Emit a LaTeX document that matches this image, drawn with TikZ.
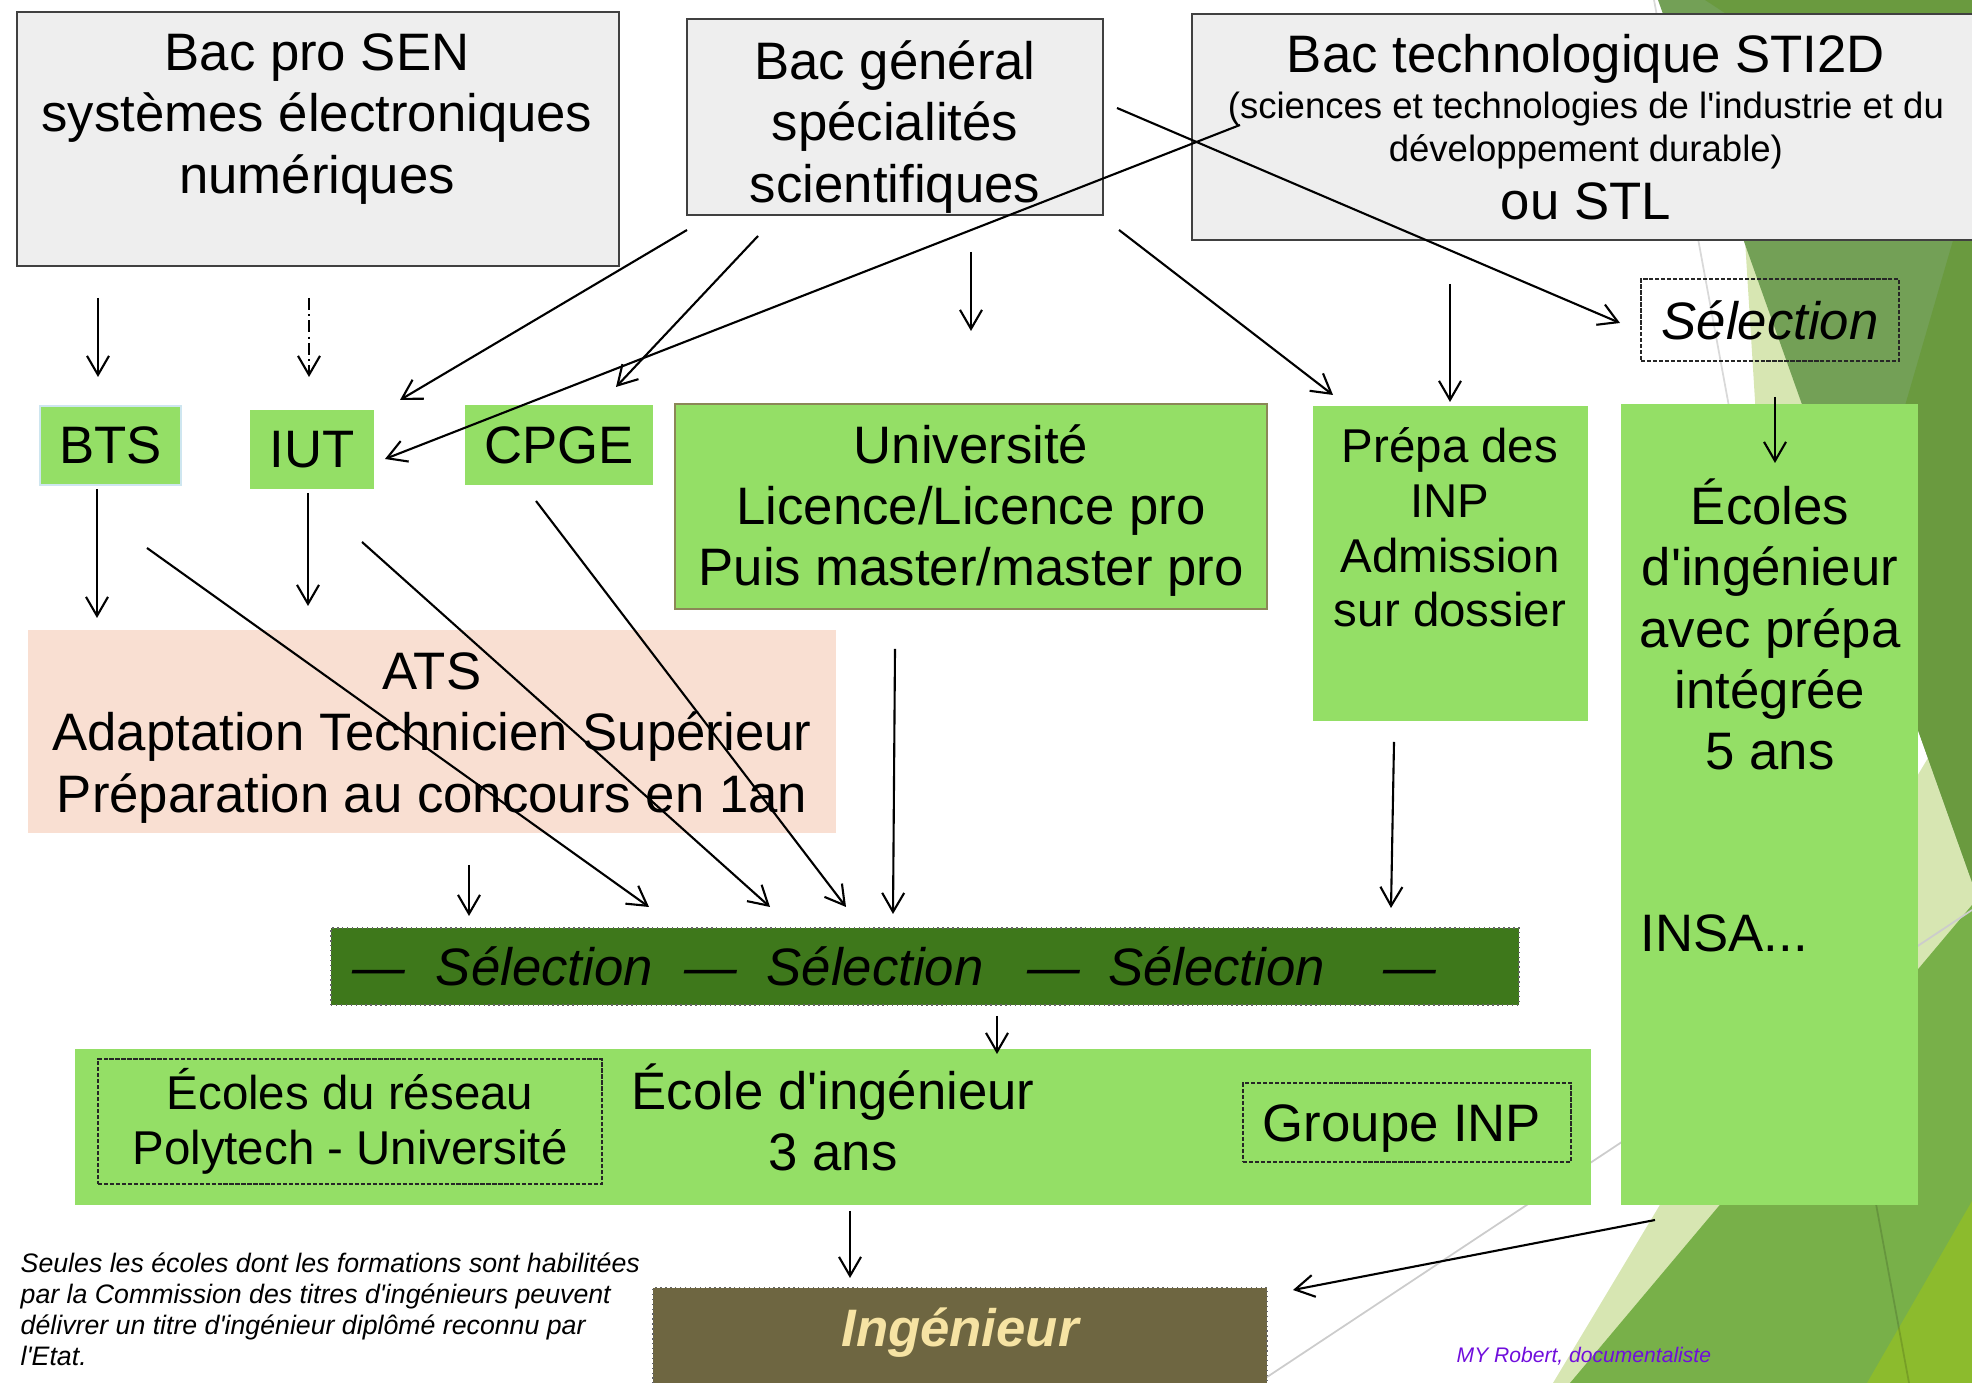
\documentclass[tikz,border=0pt]{standalone}
\usepackage{fontspec}
\setmainfont{Liberation Sans}[Ligatures=TeXOff]
\usetikzlibrary{arrows.meta,positioning}

\definecolor{boxgray}{RGB}{238,238,238}
\definecolor{boxedge}{RGB}{64,64,64}
\definecolor{lightgreen}{RGB}{148,223,102}
\definecolor{bluegray}{RGB}{206,230,240}
\definecolor{olive}{RGB}{139,135,87}
\definecolor{peach}{RGB}{249,223,210}
\definecolor{bargreen}{RGB}{62,120,27}
\definecolor{ingbrown}{RGB}{110,102,65}
\definecolor{ingtext}{RGB}{246,227,163}
\definecolor{signpurple}{RGB}{112,14,220}
\definecolor{facetmid}{RGB}{115,160,86}
\definecolor{facetdark}{RGB}{106,154,63}
\definecolor{facetpale}{RGB}{215,230,178}
\definecolor{facetlow}{RGB}{120,176,73}
\definecolor{facetlime}{RGB}{140,187,45}

\newcommand{\txtL}{\fontsize{15}{17.4}\selectfont}
\newcommand{\txtM}{\fontsize{13.5}{15.6}\selectfont}
\newcommand{\txtS}{\fontsize{10.4}{12.2}\selectfont}
\newcommand{\txtN}{\fontsize{7.6}{8.8}\selectfont}

\tikzset{
  graybox/.style={rectangle, fill=boxgray, draw=boxedge, line width=0.5pt, inner sep=0pt},
  greenbox/.style={rectangle, fill=lightgreen, inner sep=0pt},
  dashbox/.style={rectangle, draw=black!85, line width=0.4pt, dash pattern=on 1.2pt off 0.5pt, inner sep=0pt},
  txt/.style={font=\txtL, align=center, inner sep=0pt},
  arr/.style={-{Straight Barb[length=1.9mm,width=2.2mm]}, line width=0.6pt},
}

\begin{document}
\begin{tikzpicture}
\useasboundingbox (0,0) rectangle (19.72,13.83);

% background facets
\fill[facetpale] (17.45,11.43) -- (17.57,9.5) -- (18.5,9.5) -- cycle;
\fill[facetpale] (19.28,6.25) -- (19.72,5.01) -- (19.72,0) -- (15.53,0) -- cycle;
\fill[facetmid] (16.58,13.83) -- (19.72,13.83) -- (19.72,5.01) -- cycle;
\fill[facetdark] (17.05,13.83) -- (19.72,13.83) -- (19.72,12.08) -- cycle;
\fill[facetdark] (19.72,12.08) -- (18.59,8.19) -- (19.72,5.01) -- cycle;
\fill[facetlow] (15.70,0) -- (19.72,4.78) -- (19.72,0) -- cycle;
\fill[facetlime] (18.67,0) -- (19.72,1.82) -- (19.72,0) -- cycle;
\draw[black, opacity=0.15, line width=0.5pt] (16.54,13.83) -- (19.09,0);
\draw[black!20, line width=0.5pt] (12.58,0) -- (19.72,4.73);

% bacs
\node[graybox, minimum width=6.02cm, minimum height=2.54cm, anchor=north west] (bacpro) at (0.16,13.72) {};
\node[txt] (bacprotxt) at (3.17,12.64) {Bac pro SEN\\systèmes électroniques\\numériques};
\node[graybox, minimum width=4.16cm, minimum height=1.96cm] (bacgen) at (8.95,12.66) {};
\node[txt] (bacgentxt) at (8.95,12.56) {Bac général\\spécialités\\scientifiques};
\node[graybox, txt, minimum width=7.88cm, minimum height=2.26cm, anchor=north west] (bactech) at (11.91,13.70)
  {Bac technologique STI2D\\[-4.2pt]
   \txtS(sciences et technologies de l'industrie et du\\[-5.2pt]
   \txtS développement durable)\\[-0.9pt]
   ou STL};
\node[dashbox, font=\txtL\itshape, minimum width=2.58cm, minimum height=0.82cm] (selR) at (17.70,10.63) {Sélection};

% formations
\node[greenbox, txt, draw=bluegray, line width=0.4pt, minimum width=1.41cm, minimum height=0.79cm] (bts) at (1.105,9.375) {BTS};
\node[greenbox, txt, minimum width=1.24cm, minimum height=0.79cm] (iut) at (3.12,9.335) {IUT};
\node[greenbox, txt, minimum width=1.88cm, minimum height=0.80cm] (cpge) at (5.59,9.38) {CPGE};
\node[greenbox, draw=olive, line width=0.8pt, minimum width=5.92cm, minimum height=2.05cm] (univ) at (9.71,8.765) {};
\node[txt] (univtxt) at (9.71,8.725) {Université\\Licence/Licence pro\\Puis master/master pro};
\node[greenbox, minimum width=2.75cm, minimum height=3.15cm] (prepa) at (14.505,8.195) {};
\node[txt, font=\txtM] (prepatxt) at (14.50,8.555) {Prépa des\\INP\\Admission\\sur dossier};
\node[greenbox, minimum width=2.97cm, minimum height=8.01cm] (ecoles) at (17.695,5.785) {};
\node[txt] (ecolestxt) at (17.70,7.585) {Écoles\\d'ingénieur\\avec prépa\\intégrée\\5 ans};
\node[txt, anchor=west] (insa) at (16.40,4.50) {INSA...};
\node[fill=peach, inner sep=0pt, minimum width=8.08cm, minimum height=2.03cm] (ats) at (4.32,6.515) {};
\node[txt] (atstxt) at (4.32,6.45) {ATS\\Adaptation Technicien Supérieur\\Préparation au concours en 1an};

% selection and schools
\node[txt, font=\txtL\itshape, fill=bargreen, draw=black!60, densely dotted, line width=0.4pt, minimum width=11.88cm, minimum height=0.77cm] (bar) at (9.25,4.165)
  {—\hspace{0.31cm}Sélection\hspace{0.32cm}—\hspace{0.29cm}Sélection\hspace{0.44cm}—\hspace{0.28cm}Sélection\hspace{0.59cm}—\hspace*{0.61cm}};
\node[greenbox, minimum width=15.16cm, minimum height=1.56cm] (ecole) at (8.33,2.56) {};
\node[txt] (ecoletxt) at (8.33,2.66) {École d'ingénieur\\3 ans};
\node[dashbox, txt, font=\txtM, minimum width=5.04cm, minimum height=1.25cm] (reseau) at (3.50,2.615) {Écoles du réseau\\Polytech - Université};
\node[dashbox, minimum width=3.28cm, minimum height=0.79cm] (ginp) at (14.07,2.605) {};
\node[txt] (ginptxt) at (14.02,2.545) {Groupe INP};
\node[fill=ingbrown, draw=black!60, densely dotted, line width=0.4pt, font=\txtL\bfseries\itshape, text=ingtext, inner sep=0pt, minimum width=6.14cm, text height=0.59cm, text depth=0.6cm, anchor=north] (ing) at (9.60,0.96) {Ingénieur};

\node[font=\txtN\itshape, align=left, anchor=west, inner sep=0pt] (note) at (0.20,0.735) {Seules les écoles dont les formations sont habilitées\\par la Commission des titres d'ingénieurs peuvent\\délivrer un titre d'ingénieur diplômé reconnu par\\l'Etat.};
\node[font=\fontsize{6}{7}\selectfont\itshape, text=signpurple, anchor=west, inner sep=0pt] (sign) at (14.56,0.27) {MY Robert, documentaliste};

% arrow ends
\coordinate (pro1) at (0.98,10.85);   \coordinate (btsin) at (0.98,10.06);
\coordinate (pro2) at (3.09,10.85);   \coordinate (iutin) at (3.09,10.06);
\coordinate (gen1) at (6.87,11.53);   \coordinate (iutne) at (4.00,9.83);
\coordinate (gen2) at (7.58,11.47);   \coordinate (cpgein) at (6.16,9.96);
\coordinate (tech1) at (12.40,12.58); \coordinate (iute) at (3.85,9.24);
\coordinate (gen3) at (9.71,11.31);   \coordinate (univin) at (9.71,10.52);
\coordinate (gen4) at (11.19,11.53);  \coordinate (prepanw) at (13.33,9.88);
\coordinate (gen5) at (11.17,12.75);  \coordinate (selin) at (16.20,10.60);
\coordinate (tech2) at (14.50,10.99); \coordinate (prepain) at (14.50,9.81);
\coordinate (selout) at (17.75,9.86); \coordinate (ecolesin) at (17.75,9.20);
\coordinate (btsout) at (0.97,8.94);  \coordinate (ats1) at (0.97,7.65);
\coordinate (iutout) at (3.08,8.90);  \coordinate (ats2) at (3.08,7.77);
\coordinate (btsx) at (1.47,8.35);    \coordinate (bar1) at (6.49,4.76);
\coordinate (iutx) at (3.62,8.41);    \coordinate (bar2) at (7.70,4.76);
\coordinate (cpgex) at (5.36,8.82);   \coordinate (bar3) at (8.46,4.76);
\coordinate (univout) at (8.95,7.34); \coordinate (bar4) at (8.93,4.69);
\coordinate (prepaout) at (13.94,6.41); \coordinate (bar5) at (13.91,4.75);
\coordinate (atsout) at (4.69,5.18);  \coordinate (bar6) at (4.69,4.67);
\coordinate (barout) at (9.97,3.67);  \coordinate (ecolein) at (9.97,3.29);
\coordinate (ecoleout) at (8.50,1.72); \coordinate (ingin) at (8.50,1.05);
\coordinate (ecolesout) at (16.55,1.63); \coordinate (inge) at (12.93,0.93);

% arrows
\draw[arr] (pro1) -- (btsin);
\draw[arr, dash pattern=on 3.4pt off 1.2pt on 0.6pt off 1.2pt] (pro2) -- (iutin);
\draw[arr] (gen1) -- (iutne);
\draw[arr] (gen2) -- (cpgein);
\draw[arr] (tech1) -- (iute);
\draw[arr] (gen3) -- (univin);
\draw[arr] (gen4) -- (prepanw);
\draw[arr] (gen5) -- (selin);
\draw[arr] (tech2) -- (prepain);
\draw[arr] (selout) -- (ecolesin);
\draw[arr] (btsout) -- (ats1);
\draw[arr] (iutout) -- (ats2);
\draw[arr] (btsx) -- (bar1);
\draw[arr] (iutx) -- (bar2);
\draw[arr] (cpgex) -- (bar3);
\draw[arr] (univout) -- (bar4);
\draw[arr] (prepaout) -- (bar5);
\draw[arr] (atsout) -- (bar6);
\draw[arr] (barout) -- (ecolein);
\draw[arr] (ecoleout) -- (ingin);
\draw[arr] (ecolesout) -- (inge);
\end{tikzpicture}
\end{document}
